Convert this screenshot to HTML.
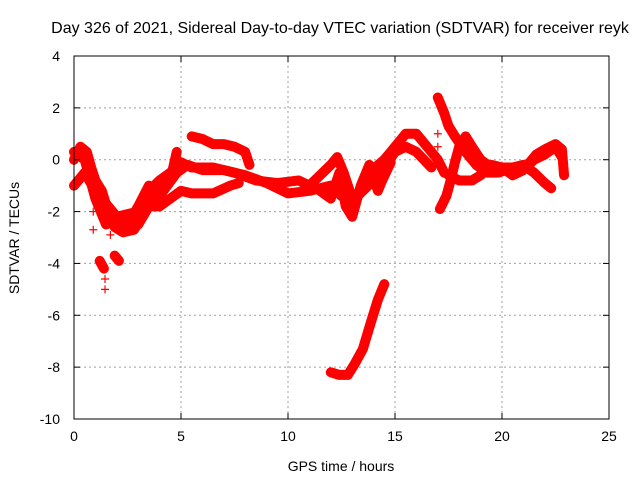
<!DOCTYPE html>
<html><head><meta charset="utf-8"><style>
body{margin:0;background:#fff;}
svg text{font-family:"Liberation Sans",sans-serif;font-size:14px;fill:#000;}
</style></head><body>
<svg id="chart" width="640" height="480">
<text x="340" y="33" text-anchor="middle" style="font-size:16px">Day 326 of 2021, Sidereal Day-to-day VTEC variation (SDTVAR) for receiver reyk</text>
<text x="341" y="471" text-anchor="middle">GPS time / hours</text>
<text transform="translate(19,238) rotate(-90)" text-anchor="middle">SDTVAR / TECUs</text>
<g id="grid"></g><g id="marks"></g><g id="axes"></g>
</svg>
<script>
const xTicks=[0,5,10,15,20,25];
const yTicks=[4,2,0,-2,-4,-6,-8,-10];
const track1=[[0,0],[0.3,0.5],[0.6,0.3],[0.8,-0.3],[1.0,-0.8],[1.3,-1.2],[1.6,-2.0],[1.9,-2.6],[2.3,-2.8],[2.8,-2.7],[3.2,-2.2],[3.5,-1.2],[4.0,-0.8],[4.5,-0.5],[5,-0.1],[5.5,-0.3],[6.5,-0.3],[7.5,-0.5],[8.5,-0.8],[9.5,-0.9],[10.5,-0.8],[11,-1.0],[11.5,-0.6],[12,-0.2],[12.3,0.1],[12.6,-0.5],[13,-1.5],[13.3,-1.3],[13.8,-0.5],[14.5,0],[15,0.5],[15.5,1.0],[16,1.0],[16.5,0.5],[17,0.0],[17.3,-0.5]];
const track2=[[0,-1.0],[0.5,-0.5],[1,-1.2],[2,-2.2],[3,-2.0],[3.5,-1.5],[4,-1.4],[4.8,-0.5],[5.3,-0.2],[6,-0.4],[7,-0.4],[8,-0.6],[9,-0.9],[10,-1.3],[11,-1.2],[12,-1.0],[12.5,-1.4],[13,-1.6],[13.5,-1.2],[14,-0.8],[14.5,-0.3],[15,0.3],[15.5,0.5],[16,0.3],[16.7,-0.3]];
const track3=[[5.5,0.9],[6,0.8],[6.5,0.6],[7,0.6],[7.5,0.5],[8,0.3],[8.2,-0.2]];
const track4=[[3,-2.5],[3.5,-1.8],[4,-1.8],[4.5,-1.5],[5,-1.2],[5.5,-1.3],[6.5,-1.3],[7.3,-1.0],[7.7,-0.9]];
const track5=[[17,2.4],[17.3,1.8],[17.5,1.3],[17.8,0.9],[18.3,0.3],[18.8,-0.2],[19.3,-0.5],[19.8,-0.5],[20.2,-0.4],[20.8,-0.4],[21.2,-0.2],[21.6,0.2],[22,0.4],[22.5,0.6],[22.8,0.4],[22.9,-0.6]];
const track6=[[17.1,-1.9],[17.4,-1.4],[17.6,-0.8],[17.8,-0.1],[18,0.5],[18.3,0.9],[18.6,0.5],[19,0],[19.5,-0.3],[20,-0.3],[20.5,-0.3],[21,-0.2],[21.5,-0.5],[22,-0.9],[22.3,-1.1]];
const track7=[[17.5,-0.6],[18,-0.8],[18.6,-0.8],[19,-0.6],[19.5,-0.2],[20,-0.3],[20.5,-0.6],[21,-0.4],[21.5,0],[22,0.2],[22.5,0.5],[22.8,0.1]];
const track8=[[12,-8.2],[12.4,-8.3],[12.8,-8.3],[13.1,-7.9],[13.5,-7.3],[13.9,-6.2],[14.2,-5.4],[14.5,-4.8]];
const track9=[[1.2,-3.9],[1.4,-4.2]];
const track10=[[1.9,-3.7],[2.1,-3.9]];
const track11=[[0,0.3],[0.5,0],[1,-1.5],[1.5,-2.5],[2,-2.3],[2.5,-2.5],[3,-1.8],[3.5,-1.0],[4,-1.2],[4.5,-0.8],[4.8,0.3]];
const track12=[[11.5,-1.2],[12,-1.5],[12.4,-0.5],[12.7,-1.8],[13,-2.2],[13.4,-1.0],[13.8,-0.2],[14.2,-1.2],[14.4,-0.8],[14.8,-0.1]];
const isolated=[[1.45,-4.6],[1.45,-5.0],[0.9,-2.0],[0.9,-2.7],[17.0,1.0],[17.0,0.5],[1.7,-2.9]];
const tracks=[track1,track2,track3,track4,track5,track6,track7,track8,track9,track10,track11,track12];

const L=74,R=609,T=56,B=419;
const X=h=>L+(h-0)/(25-0)*(R-L);
const Y=v=>T+(4-v)/(4-(-10))*(B-T);
const NS="http://www.w3.org/2000/svg";
function mk(tag,attrs,parent){const e=document.createElementNS(NS,tag);for(const k in attrs)e.setAttribute(k,attrs[k]);parent.appendChild(e);return e;}
const grid=document.getElementById('grid'),marks=document.getElementById('marks'),axes=document.getElementById('axes');
xTicks.forEach(t=>{
  if(t>0&&t<25){const g=mk('line',{x1:X(t),x2:X(t),y1:T,y2:B,stroke:'#a0a0a0','stroke-dasharray':'2,3'},grid);
  
  }
  mk('line',{x1:X(t),x2:X(t),y1:B,y2:B-6,stroke:'#000'},axes);
  mk('line',{x1:X(t),x2:X(t),y1:T,y2:T+6,stroke:'#000'},axes);
  const tx=mk('text',{x:X(t),y:B+22,'text-anchor':'middle'},axes);tx.textContent=t;
  
  
});
yTicks.forEach(t=>{
  if(t<4&&t>-10){const g=mk('line',{x1:L,x2:R,y1:Y(t),y2:Y(t),stroke:'#a0a0a0','stroke-dasharray':'2,3'},grid);
  
  }
  mk('line',{x1:L,x2:L+6,y1:Y(t),y2:Y(t),stroke:'#000'},axes);
  mk('line',{x1:R,x2:R-6,y1:Y(t),y2:Y(t),stroke:'#000'},axes);
  const tx=mk('text',{x:L-14,y:Y(t)+5,'text-anchor':'end'},axes);tx.textContent=t;
  
  
});
const fr=mk('rect',{x:L,y:T,width:R-L,height:B-T,fill:'none',stroke:'#000'},axes);


tracks.forEach(tr=>{
  const p=mk('polyline',{points:tr.map(d=>X(d[0])+','+Y(d[1])).join(' '),fill:'none',stroke:'#ff0000','stroke-width':10,'stroke-linejoin':'round','stroke-linecap':'round'},marks);
  
  
});
isolated.forEach(d=>{
  const x=X(d[0]),y=Y(d[1]);
  const p=mk('path',{d:`M${x-4},${y}H${x+4}M${x},${y-4}V${y+4}`,stroke:'#ff0000','stroke-width':1.2},marks);
  
  
});
</script>
</body></html>
